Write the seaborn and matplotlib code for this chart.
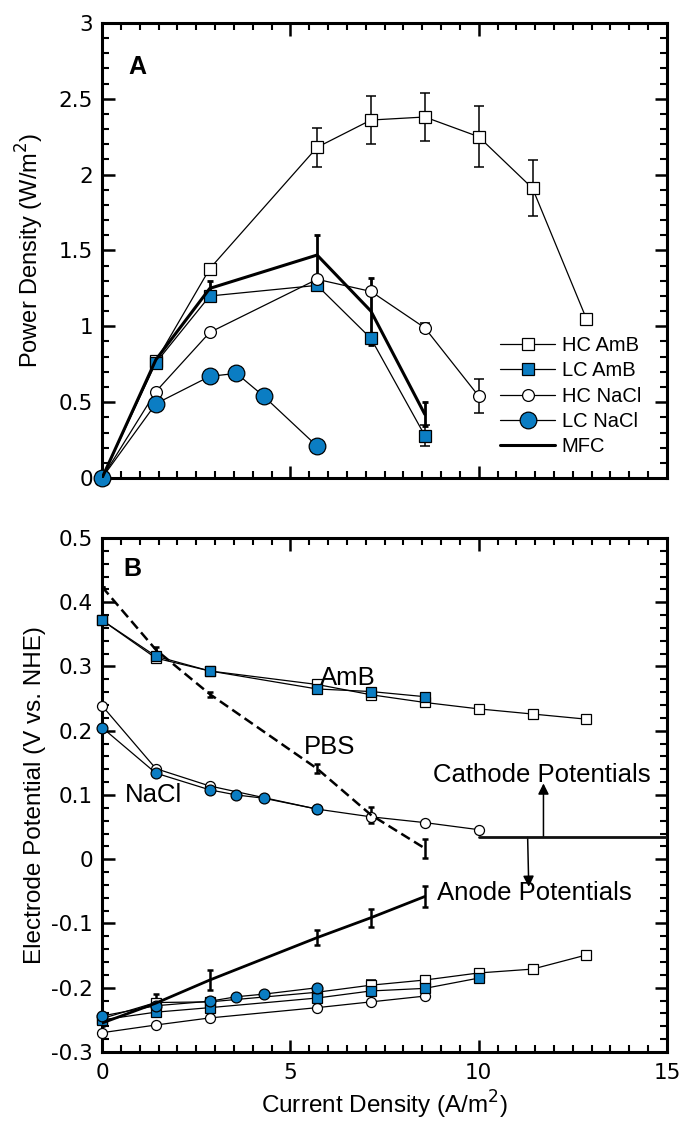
import matplotlib
matplotlib.use("Agg")
import matplotlib.pyplot as plt
import seaborn as sns
from matplotlib.ticker import MultipleLocator, FuncFormatter

# current density points (A/m2)
X_FULL = [0, 1.43, 2.86, 5.71, 7.14, 8.57, 10.0, 11.43, 12.86]
X_LC_AMB = [0, 1.43, 2.86, 5.71, 7.14, 8.57]
X_HC_NACL = [0, 1.43, 2.86, 5.71, 7.14, 8.57, 10.0]
X_LC_NACL = [0, 1.43, 2.86, 3.57, 4.29, 5.71]
X_MFC = [0, 1.43, 2.86, 5.71, 7.14, 8.57]

# panel A: power density (W/m2)
P_HC_AMB = [0, 0.77, 1.38, 2.18, 2.36, 2.38, 2.25, 1.91, 1.05]
P_HC_AMB_ERR = [0, 0, 0, 0.13, 0.16, 0.155, 0.20, 0.185, 0.03]
P_LC_AMB = [0, 0.76, 1.20, 1.27, 0.92, 0.28]
P_LC_AMB_ERR = [0, 0, 0, 0, 0, 0.07]
P_HC_NACL = [0, 0.57, 0.96, 1.31, 1.23, 0.99, 0.54]
P_HC_NACL_ERR = [0, 0, 0, 0, 0, 0.03, 0.11]
P_LC_NACL = [0, 0.49, 0.67, 0.69, 0.54, 0.21]
P_MFC = [0, 0.78, 1.25, 1.47, 1.10, 0.42]
P_MFC_ERR = [0, 0, 0.05, 0.13, 0.22, 0.08]

# panel B: cathode potentials (V vs NHE)
C_HC_AMB = [0.372, 0.313, 0.293, 0.272, 0.256, 0.244, 0.234, 0.226, 0.218]
C_LC_AMB = [0.372, 0.316, 0.293, 0.265, 0.261, 0.253]
C_HC_NACL = [0.239, 0.141, 0.114, 0.078, 0.066, 0.057, 0.046]
C_LC_NACL = [0.205, 0.134, 0.108, 0.100, 0.095, 0.078]
C_PBS = [0.424, 0.326, 0.257, 0.141, 0.069, 0.017]
C_PBS_ERR = [0, 0.004, 0.004, 0.007, 0.013, 0.015]

# panel B: anode potentials (V vs NHE)
A_HC_AMB = [-0.248, -0.223, -0.222, -0.207, -0.196, -0.188, -0.177, -0.171, -0.149]
A_HC_AMB_ERR = [0, 0, 0, 0, 0.008, 0.004, 0, 0, 0]
A_LC_AMB = [-0.250, -0.238, -0.231, -0.216, -0.205, -0.201, -0.185]
A_HC_NACL = [-0.270, -0.258, -0.247, -0.231, -0.222, -0.213]
A_LC_NACL = [-0.244, -0.228, -0.221, -0.214, -0.210, -0.200]
A_MFC = [-0.255, -0.224, -0.188, -0.122, -0.091, -0.058]
A_MFC_ERR = [0.005, 0.014, 0.016, 0.012, 0.014, 0.017]

# divider between cathode and anode groups
SPLIT_X = [10.0, 15.0]
SPLIT_Y = [0.034, 0.034]

BLUE = "#0b7dc3"
TICK_FONT = "DejaVu Sans"
TXT = 18.5

sns.set_theme(style="ticks")
plt.rcParams["font.family"] = ["Liberation Sans", "DejaVu Sans"]
plt.rcParams["axes.linewidth"] = 2.2
for key in ("text.color", "axes.labelcolor", "xtick.color", "ytick.color"):
    plt.rcParams[key] = "black"

fig = plt.figure(figsize=(6.82, 11.25), dpi=100)
ax_a = fig.add_axes([0.1496, 0.5751, 0.8284, 0.4045])
ax_b = fig.add_axes([0.1496, 0.0649, 0.8284, 0.4569])

open_sq = dict(marker="s", markerfacecolor="white", markeredgecolor="black")
blue_sq = dict(marker="s", markerfacecolor=BLUE, markeredgecolor="black")
open_ci = dict(marker="o", markerfacecolor="white", markeredgecolor="black")
blue_ci = dict(marker="o", markerfacecolor=BLUE, markeredgecolor="black")


def line(ax, x, y, style, ms, label=None, lw=0.9, z=3):
    sns.lineplot(x=x, y=y, ax=ax, color="black", linewidth=lw, markersize=ms,
                 markeredgewidth=0.9, sort=False, estimator=None, label=label,
                 legend=False, zorder=z, clip_on=False, **style)


def errs(ax, x, y, e, lw=1.1, cap=3.5):
    ax.errorbar(x, y, yerr=e, fmt="none", ecolor="black", elinewidth=lw,
                capsize=cap, capthick=lw, zorder=2)


# ---- panel A
errs(ax_a, X_FULL, P_HC_AMB, P_HC_AMB_ERR)
errs(ax_a, X_LC_AMB, P_LC_AMB, P_LC_AMB_ERR)
errs(ax_a, X_HC_NACL, P_HC_NACL, P_HC_NACL_ERR)
errs(ax_a, X_MFC, P_MFC, P_MFC_ERR, lw=2.0, cap=2.5)
line(ax_a, X_FULL, P_HC_AMB, open_sq, 8.5, "HC AmB")
line(ax_a, X_LC_AMB, P_LC_AMB, blue_sq, 8.0, "LC AmB")
line(ax_a, X_HC_NACL, P_HC_NACL, open_ci, 8.5, "HC NaCl")
line(ax_a, X_LC_NACL, P_LC_NACL, blue_ci, 12, "LC NaCl")
sns.lineplot(x=X_MFC, y=P_MFC, ax=ax_a, color="black", linewidth=2.2, sort=False,
             estimator=None, label="MFC", legend=False, zorder=4)

ax_a.set_xlim(0, 15)
ax_a.set_ylim(0, 3)
ax_a.yaxis.set_major_locator(MultipleLocator(0.5))
ax_a.yaxis.set_minor_locator(MultipleLocator(0.1))
ax_a.set_ylabel("Power Density (W/m$^2$)", fontsize=17)
ax_a.text(0.69, 2.71, "A", fontsize=18, fontweight="bold", va="center", ha="left")
handles, labels = ax_a.get_legend_handles_labels()
ax_a.legend(handles, labels, loc="center left", bbox_to_anchor=(0.705, 0.18),
            frameon=False, fontsize=14.5, handlelength=2.7, handletextpad=0.35,
            labelspacing=0.32, borderpad=0, borderaxespad=0, numpoints=1)

# ---- panel B
errs(ax_b, X_MFC, C_PBS, C_PBS_ERR, lw=1.8, cap=2.5)
errs(ax_b, X_MFC, A_MFC, A_MFC_ERR, lw=1.8, cap=2.5)
errs(ax_b, X_FULL, A_HC_AMB, A_HC_AMB_ERR)
line(ax_b, X_FULL, C_HC_AMB, open_sq, 7.2)
line(ax_b, X_LC_AMB, C_LC_AMB, blue_sq, 7.2)
line(ax_b, X_HC_NACL, C_HC_NACL, open_ci, 7.2)
line(ax_b, X_LC_NACL, C_LC_NACL, blue_ci, 7.8)
line(ax_b, X_MFC, A_HC_NACL, open_ci, 7.2)
line(ax_b, X_FULL, A_HC_AMB, open_sq, 7.2)
line(ax_b, X_HC_NACL, A_LC_AMB, blue_sq, 7.2)
line(ax_b, X_LC_NACL, A_LC_NACL, blue_ci, 7.8)
sns.lineplot(x=X_MFC, y=A_MFC, ax=ax_b, color="black", linewidth=2.0, sort=False,
             estimator=None, legend=False, zorder=4)
sns.lineplot(x=X_MFC, y=C_PBS, ax=ax_b, color="black", linewidth=1.8,
             sort=False, estimator=None, legend=False, zorder=4,
             linestyle=(0, (4, 2)))
sns.lineplot(x=SPLIT_X, y=SPLIT_Y, ax=ax_b, color="#111111", linewidth=2.0,
             sort=False, estimator=None, legend=False, zorder=4)

ax_b.set_xlim(0, 15)
ax_b.set_ylim(-0.3, 0.5)
ax_b.yaxis.set_major_locator(MultipleLocator(0.1))
ax_b.yaxis.set_minor_locator(MultipleLocator(0.02))
ax_b.set_xlabel("Current Density (A/m$^2$)", fontsize=17.5, labelpad=4)
ax_b.set_ylabel("Electrode Potential (V vs. NHE)", fontsize=17.5)

ax_b.text(0.58, 0.452, "B", fontsize=18, fontweight="bold", va="center", ha="left")
ax_b.text(5.78, 0.282, "AmB", fontsize=TXT, va="center", ha="left")
ax_b.text(5.36, 0.175, "PBS", fontsize=TXT, va="center", ha="left")
ax_b.text(0.61, 0.100, "NaCl", fontsize=TXT, va="center", ha="left")
ax_b.text(8.80, 0.131, "Cathode Potentials", fontsize=TXT, va="center", ha="left")
ax_b.text(8.90, -0.053, "Anode Potentials", fontsize=TXT, va="center", ha="left")
ax_b.annotate("", xy=(11.72, 0.118), xytext=(11.72, 0.034),
              arrowprops=dict(arrowstyle="-|>", color="black", lw=1.1, mutation_scale=16,
                              shrinkA=0, shrinkB=0))
ax_b.annotate("", xy=(11.33, -0.043), xytext=(11.30, 0.034),
              arrowprops=dict(arrowstyle="-|>", color="black", lw=1.1, mutation_scale=16,
                              shrinkA=0, shrinkB=0))

fmt = FuncFormatter(lambda v, _: f"{v:g}")
for ax in (ax_a, ax_b):
    ax.xaxis.set_minor_locator(MultipleLocator(0.5))
    ax.xaxis.set_major_locator(MultipleLocator(5))
    ax.yaxis.set_major_formatter(fmt)
    ax.tick_params(which="both", direction="in", top=True, right=True, color="black",
                   labelcolor="black")
    ax.tick_params(which="major", length=9, width=1.8, labelsize=15.5, pad=6.5)
    ax.tick_params(which="minor", length=5, width=1.5)
    for lab in ax.get_xticklabels() + ax.get_yticklabels():
        lab.set_fontfamily(TICK_FONT)
    for s in ax.spines.values():
        s.set_linewidth(2.2)
        s.set_color("black")
    ax.yaxis.set_label_coords(-0.10, 0.5)
ax_b.xaxis.set_major_formatter(fmt)
ax_b.tick_params(axis="x", which="major", pad=8)
ax_a.tick_params(axis="x", labelbottom=False)

fig.savefig("out.png", dpi=100)
